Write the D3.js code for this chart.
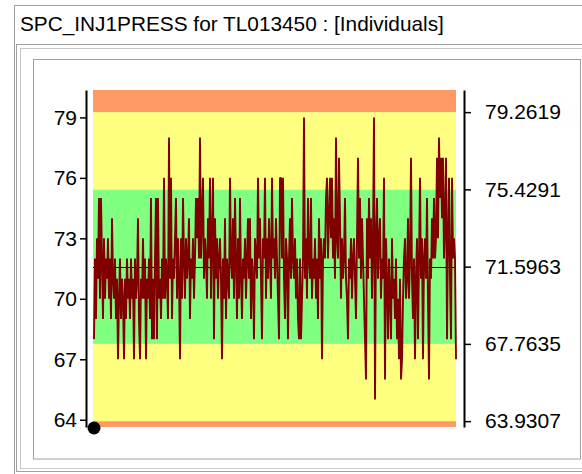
<!DOCTYPE html>
<html>
<head>
<meta charset="utf-8">
<script src="https://cdn.jsdelivr.net/npm/d3@7"></script>
<style>
  body { margin: 0; background: #fff; }
  svg { display: block; font-family: "Liberation Sans", Arial, sans-serif; }
</style>
</head>
<body>
<svg id="chart" width="582" height="474"></svg>
<script>
/* chart data */
var title = "SPC_INJ1PRESS for TL013450 : [Individuals]";

// individual readings, in order (one row = ten samples)
var readings = [
  68, 72, 69, 73, 71, 75, 70, 75, 72, 69,
  73, 70, 72, 71, 73, 70, 72, 69, 74, 71,
  70, 72, 69, 71, 67, 70, 72, 69, 71, 70,
  67, 71, 69, 72, 70, 71, 69, 72, 70, 71,
  67, 72, 70, 71, 74, 69, 67, 71, 70, 73,
  70, 72, 67, 71, 70, 72, 69, 75, 68, 71,
  68, 72, 75, 68, 75, 70, 71, 69, 72, 70,
  76, 70, 72, 71, 69, 78, 71, 76, 69, 72,
  71, 73, 75, 70, 73, 71, 67, 73, 70, 75,
  72, 70, 73, 71, 72, 74, 69, 72, 71, 73,
  70, 72, 75, 73, 75, 72, 78, 72, 74, 76,
  71, 73, 72, 70, 74, 72, 76, 70, 73, 76,
  68, 74, 71, 73, 70, 72, 73, 71, 67, 72,
  70, 74, 69, 72, 71, 70, 76, 72, 71, 74,
  70, 75, 72, 69, 73, 70, 75, 71, 69, 72,
  71, 73, 70, 72, 74, 71, 74, 69, 72, 71,
  68, 73, 72, 71, 76, 72, 74, 71, 68, 73,
  72, 76, 70, 73, 71, 74, 72, 70, 76, 72,
  73, 71, 74, 72, 70, 68, 76, 76, 72, 76,
  71, 69, 73, 72, 68, 72, 74, 71, 75, 72,
  71, 73, 70, 72, 69, 68, 72, 68, 70, 72,
  79, 71, 73, 70, 75, 72, 71, 75, 70, 72,
  71, 73, 70, 72, 69, 74, 71, 73, 67, 72,
  73, 72, 75, 76, 72, 74, 76, 73, 76, 72,
  74, 71, 78, 73, 72, 77, 74, 70, 73, 71,
  72, 75, 71, 70, 68, 72, 71, 73, 70, 72,
  73, 71, 69, 73, 77, 72, 75, 71, 74, 72,
  70, 68, 66, 74, 71, 75, 72, 74, 70, 73,
  79, 65, 73, 75, 71, 73, 74, 70, 72, 71,
  76, 66, 73, 71, 68, 72, 70, 68, 73, 70,
  71, 69, 72, 68, 70, 67, 71, 66, 67, 70,
  72, 73, 70, 71, 74, 70, 72, 77, 71, 69,
  72, 67, 71, 73, 68, 72, 76, 71, 73, 67,
  72, 73, 71, 75, 70, 66, 72, 71, 74, 72,
  75, 72, 73, 77, 73, 78, 75, 77, 74, 77,
  72, 74, 77, 68, 73, 76, 71, 68, 76, 72,
  73, 72, 67
];

// control limits: -2s, -1s, centre, +1s, +2s
var limits = [63.9307, 67.7635, 71.5963, 75.4291, 79.2619];
var leftTicks = [64, 67, 70, 73, 76, 79];
var yDomain = [63.64, 80.36];

// zone colours from bottom to top
var zoneColors = ["#ff9966", "#ffff80", "#80ff80", "#ffff80", "#ff9966"];

var svg = d3.select("#chart");

// window frame
svg.append("rect").attr("x", 14.5).attr("y", 5.5).attr("width", 580).attr("height", 480)
  .attr("fill", "none").attr("stroke", "#a0a0a0");
svg.append("text")
  .attr("x", 20).attr("y", 31)
  .attr("font-size", 20.8)
  .attr("fill", "#000")
  .text(title);

// sunken panel
svg.append("rect").attr("x", 16.5).attr("y", 44.5).attr("width", 580).attr("height", 427)
  .attr("fill", "none").attr("stroke", "#a0a0a0");
svg.append("rect").attr("x", 20.5).attr("y", 48.5).attr("width", 580).attr("height", 420)
  .attr("fill", "none").attr("stroke", "#c8c8c8");
svg.append("rect").attr("x", 33.5).attr("y", 59.5).attr("width", 547).attr("height", 399.5)
  .attr("fill", "#fff").attr("stroke", "#a0a0a0");

var plotLeft = 93, plotRight = 456;

var y = d3.scaleLinear().domain(yDomain).range([427, 90]);
var x = d3.scaleLinear().domain([0, readings.length - 1]).range([plotLeft + 1, plotRight]);

// zones
var edges = [yDomain[0]].concat([limits[0], limits[1], limits[3], limits[4]]).concat([yDomain[1]]);
var zones = d3.range(edges.length - 1).map(function(i){
  return { lo: edges[i], hi: edges[i + 1], color: zoneColors[i] };
});

svg.append("g").attr("class", "zones")
  .selectAll("rect")
  .data(zones)
  .enter().append("rect")
  .attr("x", plotLeft)
  .attr("width", plotRight - plotLeft)
  .attr("y", function(d){ return y(d.hi); })
  .attr("height", function(d){ return y(d.lo) - y(d.hi); })
  .attr("fill", function(d){ return d.color; });

// centre line
svg.append("line")
  .attr("x1", plotLeft).attr("x2", plotRight)
  .attr("y1", Math.round(y(limits[2])) + 0.5).attr("y2", Math.round(y(limits[2])) + 0.5)
  .attr("stroke", "#000").attr("stroke-width", 1.2);

// readings
var line = d3.line()
  .x(function(d, i){ return x(i); })
  .y(function(d){ return y(d); });

svg.append("path")
  .datum(readings)
  .attr("d", line)
  .attr("fill", "none")
  .attr("stroke", "#800000")
  .attr("stroke-width", 1.9)
  .attr("stroke-linejoin", "bevel");

// left axis
var leftAxis = svg.append("g")
  .attr("transform", "translate(86,0)")
  .call(d3.axisLeft(y).tickValues(leftTicks).tickSize(6).tickSizeOuter(0).tickPadding(3)
    .tickFormat(d3.format("d")));

// right axis
var rightAxis = svg.append("g")
  .attr("transform", "translate(464,0)")
  .call(d3.axisRight(y).tickValues(limits).tickSize(7).tickSizeOuter(0).tickPadding(14)
    .tickFormat(d3.format(".4f")));

[leftAxis, rightAxis].forEach(function(a){
  a.select(".domain").attr("stroke", "#000").attr("stroke-width", 2);
  a.selectAll(".tick line").attr("stroke", "#000").attr("stroke-width", 1.5);
  a.selectAll(".tick text")
    .attr("font-family", "'Liberation Sans', Arial, sans-serif")
    .attr("font-size", 21)
    .attr("fill", "#000");
});

// origin marker
svg.append("circle")
  .attr("cx", 94).attr("cy", 428)
  .attr("r", 6.5)
  .attr("fill", "#000");
</script>
</body>
</html>
